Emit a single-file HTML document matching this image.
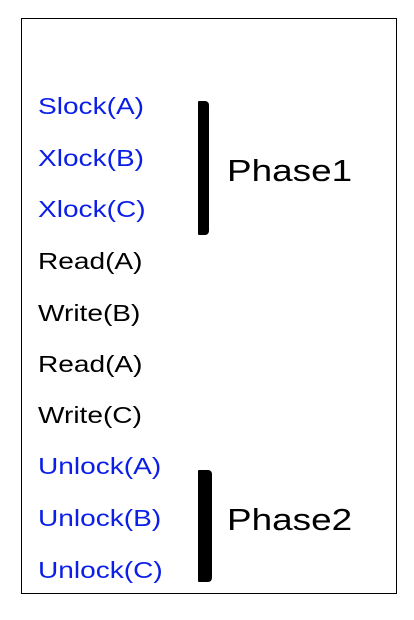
<!DOCTYPE html>
<html><head><style>
body{margin:0;width:414px;height:620px;background:#fff;position:relative;font-family:"Liberation Sans",sans-serif;overflow:hidden}
.box{position:absolute;left:21px;top:18px;width:374px;height:574px;border:1.5px solid #000}
.t{position:absolute;left:38px;font-size:23px;line-height:26px;color:#000;white-space:nowrap;transform:scaleX(1.22);transform-origin:0 50%}
.b{color:#0a1ee8}
.bar{position:absolute;background:#000;border-radius:1px 4px 4px 1px}
.p{position:absolute;left:227px;font-size:31px;line-height:36px;color:#000;transform:scaleX(1.19);transform-origin:0 50%}
</style></head><body>
<div class="box"></div>
<div class="t b" style="top:93px">Slock(A)</div>
<div class="t b" style="top:145px">Xlock(B)</div>
<div class="t b" style="top:196px">Xlock(C)</div>
<div class="t" style="top:248px">Read(A)</div>
<div class="t" style="top:300px">Write(B)</div>
<div class="t" style="top:351px">Read(A)</div>
<div class="t" style="top:402px">Write(C)</div>
<div class="t b" style="top:453px">Unlock(A)</div>
<div class="t b" style="top:505px">Unlock(B)</div>
<div class="t b" style="top:557px">Unlock(C)</div>
<div class="bar" style="left:198px;top:101px;width:11px;height:134px"></div>
<div class="bar" style="left:198px;top:470px;width:14px;height:112px"></div>
<div class="p" style="top:153px">Phase1</div>
<div class="p" style="top:502px">Phase2</div>
</body></html>
